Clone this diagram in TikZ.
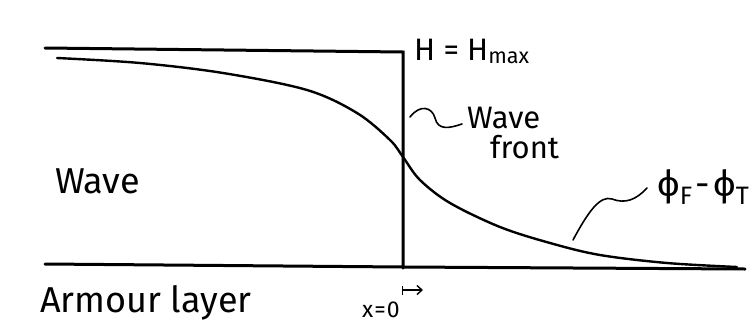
\documentclass[tikz,border=0pt]{standalone}
\usepackage{fontspec}
\setmainfont{Fira Sans}
\usetikzlibrary{arrows.meta}
\begin{document}
\begin{tikzpicture}[x=1pt,y=-1pt,
  heavy/.style={line width=3pt,line cap=round},
  curveline/.style={line width=2.4pt,line cap=round},
  leader/.style={line width=1.6pt,line cap=round},
  biglbl/.style={inner sep=0pt,anchor=base west,font=\fontsize{36}{40}\selectfont},
  lbl/.style={inner sep=0pt,anchor=base west,font=\fontsize{31}{34}\selectfont},
  smalllbl/.style={inner sep=0pt,anchor=base west,font=\fontsize{23}{25}\selectfont}]
\useasboundingbox (0,0) rectangle (755,327);
% frame lines
\coordinate (tl) at (45,48);
\coordinate (tr) at (403,52);
\coordinate (vb) at (403,268);
\coordinate (bl) at (45,264);
\coordinate (br) at (745,269);
\draw[heavy] (tl) -- (tr) -- (vb);
\draw[heavy] (bl) -- (403,267) -- (br);
% profile curve
\draw[curveline] plot[smooth,tension=0.55] coordinates {(57,58) (140,63) (223,73) (307,90) (357,113) (390,140) (403,157) (420,180) (450,203) (500,227) (550,243) (600,255) (667,263) (737,267)};
% labels
\node[lbl] (hmax) at (414,60) {H = H\textsubscript{max}};
\node[lbl] (wf1) at (467,128) {Wave};
\node[lbl] (wf2) at (490,158) {front};
\node[biglbl] (wave) at (55,193) {Wave};
\node[biglbl] (arm) at (40,312) {Armour layer};
\node[smalllbl] (x0) at (362,317) {x\kern1pt=\kern1pt0};
\node[inner sep=0pt,anchor=base west,font=\fontsize{36}{40}\selectfont] (phi) at (657,196) {ϕ\textsubscript{F}\kern3pt-\kern3ptϕ\textsubscript{T}};
% leaders
\coordinate (wfa) at (410,117);
\coordinate (wfb) at (462,124);
\draw[leader] (wfa) .. controls (420,104) and (432,107) .. (435,118) .. controls (438,131) and (450,128) .. (wfb);
\coordinate (pa) at (573,240);
\coordinate (pb) at (647,188);
\draw[leader] (pa) .. controls (588,212) and (600,195) .. (612,199) .. controls (625,204) and (636,200) .. (pb);
% small arrow at x=0
\coordinate (xa) at (402,290);
\coordinate (xb) at (423,290);
\draw[line width=1.4pt,{Bar[width=9pt]}-{Straight Barb[length=5pt,width=9pt]}] (xa) -- (xb);
\end{tikzpicture}
\end{document}
